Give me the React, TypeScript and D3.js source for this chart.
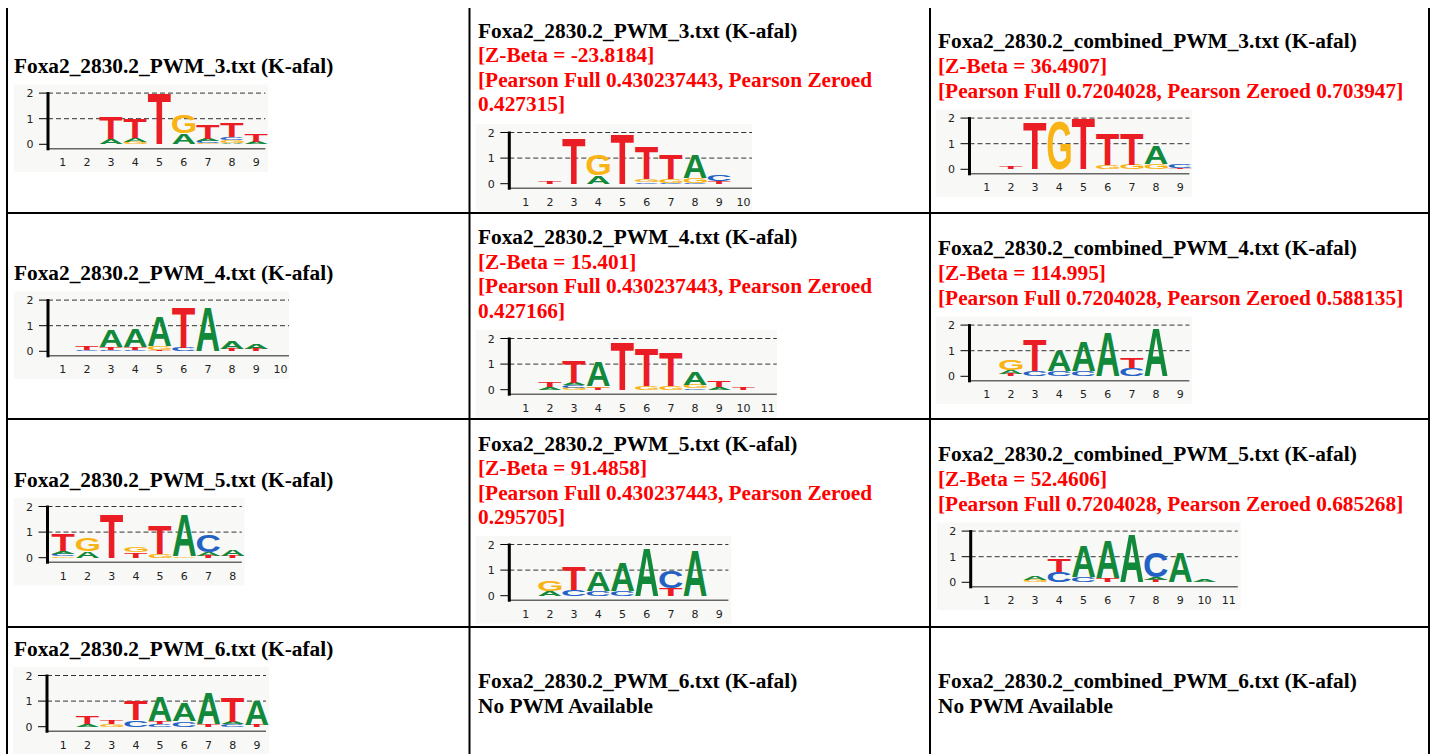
import React from 'react';
import * as d3 from 'd3';

type Stack = [string, number][];

// ---------- Text content ----------
const col1Titles = [
  'Foxa2_2830.2_PWM_3.txt (K-afal)',
  'Foxa2_2830.2_PWM_4.txt (K-afal)',
  'Foxa2_2830.2_PWM_5.txt (K-afal)',
  'Foxa2_2830.2_PWM_6.txt (K-afal)',
];
const col2Titles = [
  'Foxa2_2830.2_PWM_3.txt (K-afal)',
  'Foxa2_2830.2_PWM_4.txt (K-afal)',
  'Foxa2_2830.2_PWM_5.txt (K-afal)',
  'Foxa2_2830.2_PWM_6.txt (K-afal)',
];
const col3Titles = [
  'Foxa2_2830.2_combined_PWM_3.txt (K-afal)',
  'Foxa2_2830.2_combined_PWM_4.txt (K-afal)',
  'Foxa2_2830.2_combined_PWM_5.txt (K-afal)',
  'Foxa2_2830.2_combined_PWM_6.txt (K-afal)',
];
const col2ZBeta = ['-23.8184', '15.401', '91.4858'];
const col2PearsonFull = ['0.430237443', '0.430237443', '0.430237443'];
const col2PearsonZeroed = ['0.427315', '0.427166', '0.295705'];
const col3ZBeta = ['36.4907', '114.995', '52.4606'];
const col3PearsonFull = ['0.7204028', '0.7204028', '0.7204028'];
const col3PearsonZeroed = ['0.703947', '0.588135', '0.685268'];
const noPwmText = 'No PWM Available';

// ---------- Logo data (bottom -> top stacks, in bits) ----------
const logoPwm3: Stack[] = [
  [], [],
  [['A', 0.22], ['T', 0.87]],
  [['G', 0.1], ['A', 0.15], ['T', 0.78]],
  [['T', 1.97]],
  [['A', 0.42], ['G', 0.71]],
  [['G', 0.04], ['C', 0.08], ['A', 0.1], ['T', 0.55]],
  [['A', 0.06], ['G', 0.1], ['C', 0.12], ['T', 0.57]],
  [['A', 0.1], ['T', 0.29]],
];
const logoPwm3Match: Stack[] = [
  [],
  [['T', 0.1]],
  [['T', 1.77]],
  [['A', 0.32], ['G', 0.82]],
  [['T', 1.91]],
  [['C', 0.05], ['G', 0.12], ['T', 1.25]],
  [['C', 0.04], ['G', 0.14], ['T', 0.95]],
  [['C', 0.04], ['G', 0.2], ['A', 0.93]],
  [['T', 0.1], ['C', 0.25]],
  [],
];
const logoPwm3Combined: Stack[] = [
  [],
  [['T', 0.1]],
  [['T', 1.83]],
  [['G', 1.88]],
  [['T', 1.96]],
  [['G', 0.16], ['T', 1.2]],
  [['G', 0.18], ['T', 1.2]],
  [['G', 0.22], ['A', 0.68]],
  [['T', 0.06], ['C', 0.16]],
];
const logoPwm4: Stack[] = [
  [],
  [['C', 0.07], ['T', 0.15]],
  [['C', 0.07], ['T', 0.1], ['A', 0.65]],
  [['C', 0.07], ['T', 0.1], ['A', 0.73]],
  [['T', 0.06], ['G', 0.15], ['A', 1.14]],
  [['C', 0.13], ['T', 1.55]],
  [['A', 1.72]],
  [['T', 0.08], ['A', 0.3]],
  [['T', 0.08], ['A', 0.22]],
  [],
];
const logoPwm4Match: Stack[] = [
  [],
  [['A', 0.1], ['T', 0.2]],
  [['G', 0.08], ['C', 0.1], ['A', 0.1], ['T', 0.86]],
  [['T', 0.08], ['G', 0.05], ['A', 0.95]],
  [['T', 1.85]],
  [['G', 0.13], ['T', 1.48]],
  [['G', 0.13], ['T', 1.33]],
  [['C', 0.06], ['G', 0.13], ['A', 0.48]],
  [['A', 0.12], ['T', 0.24]],
  [['T', 0.1]],
  [],
];
const logoPwm4Combined: Stack[] = [
  [],
  [['T', 0.08], ['A', 0.15], ['G', 0.4]],
  [['C', 0.22], ['T', 1.22]],
  [['C', 0.2], ['A', 0.82]],
  [['C', 0.2], ['A', 1.17]],
  [['A', 1.72]],
  [['C', 0.32], ['T', 0.42]],
  [['A', 1.86]],
  [],
];
const logoPwm5: Stack[] = [
  [['G', 0.06], ['C', 0.1], ['A', 0.1], ['T', 0.63]],
  [['A', 0.25], ['G', 0.51]],
  [['T', 1.7]],
  [['T', 0.22], ['G', 0.2]],
  [['G', 0.14], ['T', 1.11]],
  [['G', 0.06], ['A', 1.64]],
  [['T', 0.08], ['A', 0.15], ['C', 0.66]],
  [['T', 0.08], ['A', 0.27]],
];
const logoPwm5Match: Stack[] = [
  [],
  [['A', 0.18], ['G', 0.4]],
  [['C', 0.24], ['T', 0.92]],
  [['C', 0.2], ['A', 0.74]],
  [['C', 0.2], ['A', 1.12]],
  [['A', 1.87]],
  [['T', 0.3], ['C', 0.67]],
  [['A', 1.77]],
  [],
];
const logoPwm5Combined: Stack[] = [
  [], [],
  [['G', 0.08], ['A', 0.15]],
  [['C', 0.42], ['T', 0.5]],
  [['C', 0.22], ['A', 1.22]],
  [['T', 0.15], ['A', 1.45]],
  [['A', 1.86]],
  [['T', 0.08], ['A', 0.1], ['C', 0.95]],
  [['A', 1.14]],
  [['A', 0.08]],
  [],
];
const logoPwm6: Stack[] = [
  [],
  [['A', 0.1], ['T', 0.29]],
  [['G', 0.1], ['T', 0.16]],
  [['C', 0.26], ['T', 0.77]],
  [['C', 0.12], ['T', 0.1], ['A', 0.94]],
  [['C', 0.22], ['A', 0.71]],
  [['T', 0.1], ['A', 1.19]],
  [['C', 0.1], ['A', 0.1], ['T', 0.96]],
  [['T', 0.08], ['A', 0.95]],
];
const yTicks = [0, 1, 2];

// ---------- Layout (positions only) ----------
const COL_W = 24.2;
const BIT_PX = 25.6;
const LETTER_COLORS: Record<string, string> = {
  A: '#12883b',
  C: '#2461c4',
  G: '#f8b414',
  T: '#ea1d25',
};

const logos = [
  { data: logoPwm3, axisX: 48, zeroY: 144.3, c1: 62.7, clipR: 0 },
  { data: logoPwm3Match, axisX: 509.3, zeroY: 183.7, c1: 525.7, clipR: 752 },
  { data: logoPwm3Combined, axisX: 969.5, zeroY: 169.3, c1: 986.7, clipR: 0 },
  { data: logoPwm4, axisX: 48, zeroY: 351.3, c1: 62.7, clipR: 289 },
  { data: logoPwm4Match, axisX: 509.3, zeroY: 389.7, c1: 525.7, clipR: 777 },
  { data: logoPwm4Combined, axisX: 969.5, zeroY: 376.3, c1: 986.7, clipR: 0 },
  { data: logoPwm5, axisX: 47.5, zeroY: 557.7, c1: 63.3, clipR: 0 },
  { data: logoPwm5Match, axisX: 509.3, zeroY: 595.7, c1: 525.7, clipR: 0 },
  { data: logoPwm5Combined, axisX: 970.7, zeroY: 582.3, c1: 986.7, clipR: 0 },
  { data: logoPwm6, axisX: 47, zeroY: 726.7, c1: 63.3, clipR: 0 },
];

const glyphCache: Record<string, { l: number; r: number; a: number; d: number }> = {};
function glyph(ch: string) {
  if (glyphCache[ch]) return glyphCache[ch];
  let g = { l: 0, r: 70, a: 72, d: 0 };
  try {
    const c = document.createElement('canvas');
    const ctx = c.getContext('2d');
    if (ctx) {
      ctx.font = 'bold 100px "Liberation Sans"';
      const m = ctx.measureText(ch);
      const l = m.actualBoundingBoxLeft;
      const r = m.actualBoundingBoxRight;
      const a = m.actualBoundingBoxAscent;
      const d = m.actualBoundingBoxDescent;
      if (isFinite(r) && r + l > 1 && a + d > 1) g = { l, r, a, d };
    }
  } catch (e) {
    /* ignore */
  }
  glyphCache[ch] = g;
  return g;
}

function Letter({ ch, x, y, w, h }: { ch: string; x: number; y: number; w: number; h: number }) {
  if (h <= 0) return null;
  const g = glyph(ch);
  const sx = w / (g.l + g.r);
  const sy = h / (g.a + g.d);
  return (
    <text
      x={0}
      y={0}
      fontFamily='"Liberation Sans", Arial, sans-serif'
      fontWeight="bold"
      fontSize={100}
      fill={LETTER_COLORS[ch]}
      transform={`translate(${x + g.l * sx},${y + g.a * sy}) scale(${sx},${sy})`}
    >
      {ch}
    </text>
  );
}

function Logo({ spec, idx }: { spec: (typeof logos)[number]; idx: number }) {
  const n = spec.data.length;
  const left = spec.c1 - COL_W / 2;
  const positions = d3.range(1, n + 1);
  const x = d3.scaleBand<number>().domain(positions).range([left, left + n * COL_W]).paddingInner(0);
  const y = d3.scaleLinear().domain([0, 2]).range([spec.zeroY, spec.zeroY - 2 * BIT_PX]);
  const naturalRight = left + n * COL_W;
  const right = spec.clipR ? Math.min(spec.clipR, naturalRight) : naturalRight;
  const dashEnd = Math.min(naturalRight - 3, right);
  const imgLeft = spec.axisX - 34;
  const top = spec.zeroY - 60;
  const bottom = spec.zeroY + 28;
  const clipId = `logo-clip-${idx}`;
  const lw = x.bandwidth() - 1;
  return (
    <g>
      <defs>
        <clipPath id={clipId}>
          <rect x={imgLeft} y={top} width={right - imgLeft} height={bottom - top} />
        </clipPath>
      </defs>
      <g clipPath={`url(#${clipId})`}>
        <rect x={imgLeft} y={top} width={right - imgLeft} height={bottom - top} fill="#f8f8f6" />
        {[1, 2].map((t) => (
          <line
            key={t}
            x1={spec.axisX}
            x2={dashEnd}
            y1={y(t)}
            y2={y(t)}
            stroke="#333"
            strokeWidth={1}
            strokeDasharray="5,3"
          />
        ))}
        <line x1={spec.axisX} x2={dashEnd} y1={spec.zeroY + 4.5} y2={spec.zeroY + 4.5} stroke="#666" strokeWidth={1.5} />
        {yTicks.map((t) => (
          <g key={t}>
            <line x1={spec.axisX - 9} x2={spec.axisX} y1={y(t)} y2={y(t)} stroke="#000" strokeWidth={1} />
            <text
              x={spec.axisX - 18}
              y={y(t) + 4}
              textAnchor="middle"
              fontFamily='"DejaVu Sans", sans-serif'
              fontSize={11}
              fill="#222"
            >
              {t}
            </text>
          </g>
        ))}
        <rect x={spec.axisX - 1.5} y={y(2) - 1} width={3} height={spec.zeroY + 6 - (y(2) - 1)} fill="#000" />
        {spec.data.map((stack, i) => {
          const pos = i + 1;
          const cx = x(pos)! + 0.5;
          let cum = 0;
          return (
            <g key={i}>
              {stack.map(([ch, v], j) => {
                const yb = y(cum);
                cum += v;
                const yt = y(cum);
                return <Letter key={j} ch={ch} x={cx} y={yt} w={lw} h={yb - yt} />;
              })}
              <text
                x={x(pos)! + x.bandwidth() / 2}
                y={spec.zeroY + 22}
                textAnchor="middle"
                fontFamily='"DejaVu Sans", sans-serif'
                fontSize={11}
                fill="#222"
              >
                {pos}
              </text>
            </g>
          );
        })}
      </g>
    </g>
  );
}

const FONT = '"Liberation Serif", "Times New Roman", serif';
const FS = 21.33;

function T({ x, y, children, red }: { x: number; y: number; children: React.ReactNode; red?: boolean }) {
  return (
    <text x={x} y={y} fontFamily={FONT} fontWeight="bold" fontSize={FS} fill={red ? '#ff0000' : '#000'}>
      {children}
    </text>
  );
}

export default function App() {
  const rowShift = [0, 206.5, 413];
  const vLines = [7, 469.5, 930, 1429];
  const hLines = [213, 419, 627];
  return (
    <svg
      width={1433}
      height={754}
      style={{ position: 'absolute', left: 0, top: 0, background: '#fff' }}
    >
      <rect x={0} y={0} width={1433} height={754} fill="#fff" />
      {vLines.map((vx) => (
        <line key={vx} x1={vx} x2={vx} y1={8} y2={754} stroke="#000" strokeWidth={2} />
      ))}
      {hLines.map((hy) => (
        <line key={hy} x1={7} x2={1429} y1={hy} y2={hy} stroke="#000" strokeWidth={2} />
      ))}

      {/* column 1 titles */}
      {[72.5, 279.5, 486.5, 655.5].map((by, i) => (
        <T key={i} x={14} y={by}>
          {col1Titles[i]}
        </T>
      ))}

      {/* column 2 text */}
      {rowShift.map((s, i) => (
        <g key={i}>
          <T x={478} y={37.5 + s}>{col2Titles[i]}</T>
          <T x={478} y={62 + s} red>{`[Z-Beta = ${col2ZBeta[i]}]`}</T>
          <T x={478} y={86.5 + s} red>{`[Pearson Full ${col2PearsonFull[i]}, Pearson Zeroed`}</T>
          <T x={478} y={111 + s} red>{`${col2PearsonZeroed[i]}]`}</T>
        </g>
      ))}
      <T x={478} y={687.5}>{col2Titles[3]}</T>
      <T x={478} y={712.5}>{noPwmText}</T>

      {/* column 3 text */}
      {rowShift.map((s, i) => (
        <g key={i}>
          <T x={938} y={48 + s}>{col3Titles[i]}</T>
          <T x={938} y={73 + s} red>{`[Z-Beta = ${col3ZBeta[i]}]`}</T>
          <T x={938} y={98 + s} red>{`[Pearson Full ${col3PearsonFull[i]}, Pearson Zeroed ${col3PearsonZeroed[i]}]`}</T>
        </g>
      ))}
      <T x={938} y={687.5}>{col3Titles[3]}</T>
      <T x={938} y={712.5}>{noPwmText}</T>

      {logos.map((spec, i) => (
        <Logo key={i} spec={spec} idx={i} />
      ))}
    </svg>
  );
}
